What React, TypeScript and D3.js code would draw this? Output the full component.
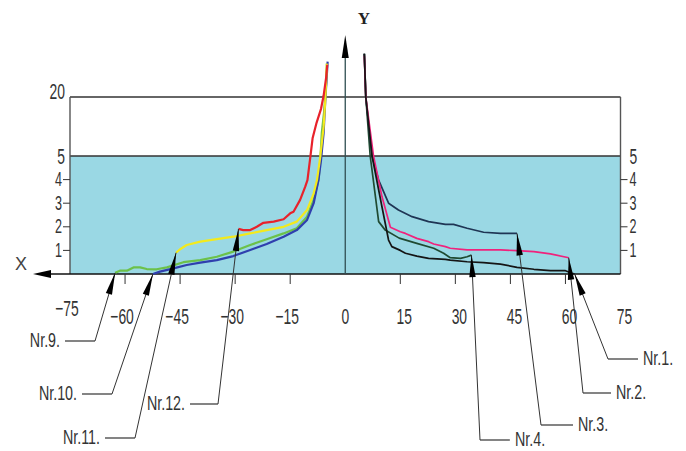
import * as d3 from "d3";
import React from "react";

// x in degrees, y in the chart's units (0..5 linear, 5..20 compressed)
const X_TICKS = [-75, -60, -45, -30, -15, 0, 15, 30, 45, 60, 75];
const Y_TICKS_MINOR = [1, 2, 3, 4];
const Y_TICKS_MAJOR = [5, 20];

const nr12 = [
  [-29.1, 1.91], [-27.8, 1.86], [-25.9, 1.86], [-24.1, 2.0], [-22.3, 2.17],
  [-19.5, 2.22], [-16.8, 2.32], [-15, 2.57], [-14.1, 2.64], [-12.3, 3.14],
  [-10.9, 3.7], [-10.3, 3.98], [-9.5, 4.97], [-8.9, 9.5], [-7.8, 13.5],
  [-6.6, 17], [-5.9, 20.3], [-5.2, 25], [-4.9, 28.2],
];
const nr11 = [
  [-46.1, 0.9], [-45, 1.05], [-43.2, 1.23], [-39.5, 1.37], [-35, 1.48],
  [-30.5, 1.58], [-25.9, 1.72], [-21.4, 1.86], [-16.8, 2.0], [-13.2, 2.22],
  [-10.4, 2.71], [-8.6, 3.42], [-7.7, 3.98], [-6.8, 4.97], [-5.9, 12.4],
  [-5.45, 19], [-5.0, 28.5],
];
const nr9 = [
  [-62.7, 0.05], [-61.4, 0.14], [-59.5, 0.14], [-57.7, 0.28], [-55.9, 0.28],
  [-54.1, 0.21], [-51.4, 0.2], [-48.6, 0.28], [-44.1, 0.5], [-39.5, 0.59],
  [-35, 0.73], [-30.5, 0.95], [-25.9, 1.23], [-21.4, 1.47], [-16.8, 1.72],
  [-13.2, 1.94], [-10.4, 2.43], [-8.6, 3.14], [-7.3, 3.98], [-6.8, 4.8],
  [-6.4, 10.8], [-5.7, 16.7], [-5.2, 23.5], [-5.0, 28.5],
];
const nr10 = [
  [-52.4, 0], [-50.5, 0.1], [-46.8, 0.24], [-43.2, 0.38], [-39.5, 0.48],
  [-35, 0.59], [-30.5, 0.76], [-25.9, 1.02], [-21.4, 1.27], [-16.8, 1.58],
  [-13.2, 1.86], [-10.4, 2.29], [-8.6, 3.0], [-7.3, 3.98], [-6.6, 4.83],
  [-5.9, 10.8], [-5.45, 19], [-4.8, 29],
];
const nr3 = [
  [5.2, 31], [5.6, 20], [7.3, 5], [9.1, 3.98], [11.8, 3.0], [14.5, 2.71],
  [18.2, 2.43], [22.7, 2.22], [27.3, 2.1], [29.5, 2.1], [33.2, 1.94],
  [37.7, 1.77], [42.3, 1.72], [46.8, 1.72],
];
const nr2 = [
  [5.2, 30.5], [5.6, 20], [7.7, 5], [10, 3.28], [12.3, 1.98], [15, 1.79],
  [16.4, 1.72], [19.5, 1.51], [22.7, 1.37], [24.1, 1.27], [27.3, 1.16],
  [28.6, 1.09], [33.2, 1.02], [37.7, 1.02], [42.3, 1.02], [46.8, 0.99],
  [51.4, 0.95], [55.9, 0.85], [60.9, 0.69],
];
const nr4 = [
  [5.2, 31], [5.6, 20], [6.8, 5], [9.1, 2.22], [10.9, 1.86], [14.7, 1.52],
  [19.5, 1.3], [24.1, 1.09], [26.8, 0.88], [28.6, 0.69], [31.4, 0.66],
  [33.2, 0.73], [34.4, 0.8],
];
const nr1 = [
  [5.2, 31], [5.6, 20], [7.3, 5], [10, 2.85], [11.8, 1.44], [12.7, 1.16],
  [15, 1.0], [16.4, 0.88], [19.5, 0.76], [22.7, 0.66], [27.3, 0.62],
  [28.6, 0.59], [33.2, 0.52], [37.7, 0.48], [42.3, 0.42], [46.8, 0.28],
  [51.4, 0.2], [55.9, 0.14], [60, 0.14], [61.8, 0.03], [62.5, 0],
];

const series = [
  { name: "Nr.9.", data: nr9, color: "#6cc14a", tip: "start" },
  { name: "Nr.10.", data: nr10, color: "#2f3fae", tip: "start" },
  { name: "Nr.11.", data: nr11, color: "#f3ea1c", tip: "start" },
  { name: "Nr.12.", data: nr12, color: "#e8222b", tip: "start" },
  { name: "Nr.4.", data: nr4, color: "#1f4a32", tip: "end" },
  { name: "Nr.3.", data: nr3, color: "#1f3554", tip: "end" },
  { name: "Nr.2.", data: nr2, color: "#f0227c", tip: "end" },
  { name: "Nr.1.", data: nr1, color: "#151515", tip: "end" },
];

// leader layout: elbow point and side of the label (pixels)
const leaders = {
  "Nr.9.": { ex: 95, ey: 341, len: 30, side: -1 },
  "Nr.10.": { ex: 112, ey: 394, len: 30, side: -1 },
  "Nr.11.": { ex: 135, ey: 438, len: 30, side: -1 },
  "Nr.12.": { ex: 218, ey: 404, len: 28, side: -1 },
  "Nr.1.": { ex: 608, ey: 359, len: 30, side: 1 },
  "Nr.2.": { ex: 583, ey: 393, len: 28, side: 1 },
  "Nr.3.": { ex: 541, ey: 425, len: 32, side: 1 },
  "Nr.4.": { ex: 480, ey: 440, len: 30, side: 1 },
};

const FONT = "'Liberation Sans', Arial, sans-serif";
const INK = "#333";

function CadText({ x, y, anchor = "middle", size = 22, sx = 0.63, children }) {
  return (
    <text
      transform={`translate(${x},${y}) scale(${sx},1)`}
      textAnchor={anchor}
      dominantBaseline="central"
      fontFamily={FONT}
      fontSize={size}
      fill={INK}
    >
      {children}
    </text>
  );
}

function Arrow({ x1, y1, x2, y2, len = 22, half = 3.5 }) {
  // arrowhead with tip at (x2,y2) coming from (x1,y1)
  const a = Math.atan2(y2 - y1, x2 - x1);
  const bx = x2 - len * Math.cos(a),
    by = y2 - len * Math.sin(a);
  const px = -Math.sin(a) * half,
    py = Math.cos(a) * half;
  return (
    <polygon
      points={`${x2},${y2} ${bx + px},${by + py} ${bx - px},${by - py}`}
      fill="#000"
    />
  );
}

export default function App() {
  const width = 686,
    height = 451;
  const x = d3.scaleLinear().domain([-75, 75]).range([70, 620.5]);
  const y = d3.scaleLinear().domain([0, 5, 20, 30]).range([274, 156, 97, 57.7]);
  const line = d3
    .line()
    .x((d) => x(d[0]))
    .y((d) => y(d[1]));

  const x0 = x(-75),
    x1 = x(75),
    yBase = y(0);

  return (
    <svg
      width={width}
      height={height}
      style={{ position: "absolute", left: 0, top: 0, background: "#fff" }}
    >
      {/* shaded band 0..5 and the box */}
      <rect x={x0} y={y(5)} width={x1 - x0} height={yBase - y(5)} fill="#9ad8e4" />
      <g stroke="#333" strokeWidth={1.4} fill="none">
        <line x1={x0} x2={x1} y1={y(20)} y2={y(20)} />
        <line x1={x0} x2={x1} y1={y(5)} y2={y(5)} />
        <line x1={x0} x2={x0} y1={y(20)} y2={yBase} stroke="#555" />
        <line x1={x1} x2={x1} y1={y(20)} y2={yBase} stroke="#555" />
      </g>

      {/* y ticks both sides */}
      {Y_TICKS_MINOR.map((t) => (
        <g key={t} stroke="#333" strokeWidth={1}>
          <line x1={x0 - 7} x2={x0} y1={y(t)} y2={y(t)} />
          <line x1={x1} x2={x1 + 7} y1={y(t)} y2={y(t)} />
        </g>
      ))}
      {Y_TICKS_MINOR.map((t) => (
        <g key={"l" + t}>
          <CadText x={x0 - 8} y={y(t)} anchor="end" size={20}>{t}</CadText>
          <CadText x={x1 + 9} y={y(t)} anchor="start" size={20}>{t}</CadText>
        </g>
      ))}
      {Y_TICKS_MAJOR.map((t) => (
        <g key={"m" + t}>
          <CadText x={x0 - 5} y={t === 20 ? y(t) - 6 : y(t)} anchor="end" size={22}>{t}</CadText>
          {t === 5 && (
            <CadText x={x1 + 9} y={y(t)} anchor="start" size={22}>{t}</CadText>
          )}
        </g>
      ))}

      {/* x axis */}
      <line x1={x1} x2={40} y1={yBase} y2={yBase} stroke="#111" strokeWidth={1.5} />
      <Arrow x1={60} y1={yBase} x2={33} y2={yBase} len={18} half={4} />
      <text x={21} y={264} textAnchor="middle" dominantBaseline="central"
        fontFamily={FONT} fontSize={18} fill="#444">X</text>
      {X_TICKS.filter((t) => t !== 0 && Math.abs(t) !== 75).map((t) => (
        <line key={t} x1={x(t)} x2={x(t)} y1={yBase} y2={yBase + 10}
          stroke="#333" strokeWidth={1} />
      ))}
      {X_TICKS.map((t) => (
        <CadText key={t} x={x(t) + (t > 0 ? 4 : t < 0 ? -3 : 0)} y={t === -75 ? 308 : 316}>
          {t < 0 ? `\u2212${-t}` : t}
        </CadText>
      ))}

      {/* y axis */}
      <line x1={x(0)} x2={x(0)} y1={yBase} y2={50} stroke="#2f4f52" strokeWidth={1.3} />
      <Arrow x1={x(0)} y1={70} x2={x(0)} y2={35} len={23} half={3.5} />
      <text x={364} y={18} textAnchor="middle" dominantBaseline="central"
        fontFamily="'Liberation Serif', serif" fontWeight="bold" fontSize={17} fill="#222">Y</text>

      {/* curves */}
      {series.map((s) => (
        <path key={s.name} d={line(s.data)} fill="none" stroke={s.color}
          strokeWidth={s.tip === "start" ? 2.2 : 1.7} strokeLinejoin="round" />
      ))}

      {/* leaders */}
      {series.map((s) => {
        const L = leaders[s.name];
        const p = s.tip === "start" ? s.data[0] : s.data[s.data.length - 1];
        const tx = x(p[0]),
          ty = y(p[1]);
        const hx = L.ex + L.side * L.len;
        return (
          <g key={"ld" + s.name}>
            <line x1={L.ex} y1={L.ey} x2={tx} y2={ty} stroke="#333" strokeWidth={1} />
            <line x1={L.ex} y1={L.ey} x2={hx} y2={L.ey} stroke="#333" strokeWidth={1.2} />
            <Arrow x1={L.ex} y1={L.ey} x2={tx} y2={ty} len={22} half={3.2} />
            <CadText x={hx + L.side * 5} y={L.ey - 1} anchor={L.side < 0 ? "end" : "start"}
              size={21} sx={0.68}>
              {s.name}
            </CadText>
          </g>
        );
      })}
    </svg>
  );
}
